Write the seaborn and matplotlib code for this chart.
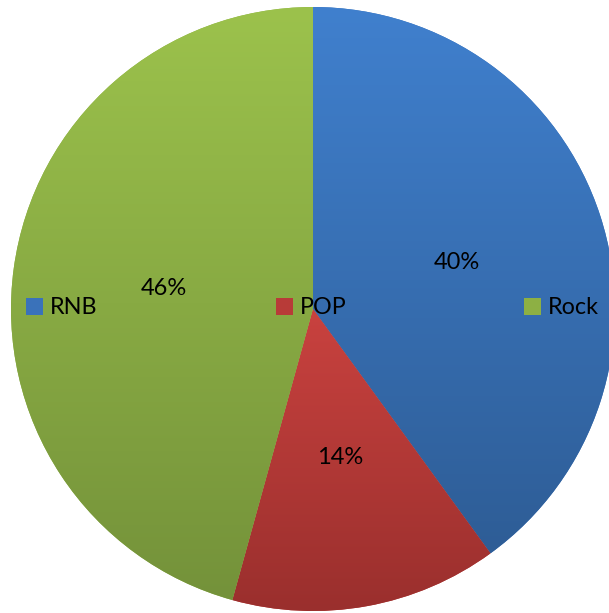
import numpy as np
import matplotlib
matplotlib.use("Agg")
import matplotlib.pyplot as plt
import seaborn as sns
from matplotlib.colors import LinearSegmentedColormap
from matplotlib.patches import Patch

categories = ["RNB", "POP", "Rock"]
values = [40.0, 14.3, 45.7]

top_colors = ["#4080CE", "#C9423F", "#9CC24C"]
bottom_colors = ["#2E5D96", "#9A2F2D", "#74923A"]
mid_colors = ["#3A72BA", "#B83B38", "#8DB044"]

sns.set_style("white")
plt.rcParams["font.family"] = ["Lato", "DejaVu Sans"]

W, H = 609, 613
fig = plt.figure(figsize=(W / 100, H / 100), dpi=100)
ax = fig.add_axes([0, 0, 1, 1])

cx, cy, r = 313, H - 309, 302
wedges, texts, autotexts = ax.pie(
    values, colors=mid_colors, startangle=90, counterclock=False,
    center=(cx, cy), radius=r, autopct="%1.0f%%", pctdistance=0.5,
    textprops=dict(fontsize=17, color="black"),
    wedgeprops=dict(linewidth=0),
)
for t in texts:
    t.set_visible(False)

ax.set_xlim(0, W)
ax.set_ylim(0, H)
ax.set_aspect("equal")
ax.axis("off")

# vertical gradient per wedge
for w, c0, c1 in zip(wedges, top_colors, bottom_colors):
    bb = w.get_path().get_extents(w.get_patch_transform())
    cmap = LinearSegmentedColormap.from_list("g", [c1, c0])
    grad = np.linspace(0, 1, 256).reshape(-1, 1)
    im = ax.imshow(grad, cmap=cmap, origin="lower", aspect="auto",
                   extent=(bb.x0, bb.x1, bb.y0, bb.y1), zorder=w.get_zorder() + 0.1)
    im.set_clip_path(w)
for t in autotexts:
    t.set_zorder(5)
ax.set_xlim(0, W)
ax.set_ylim(0, H)

handles = [Patch(facecolor=c, edgecolor="none") for c in mid_colors]
fs = 16.8
fpx = fs * 100 / 72
leg = ax.legend(handles, categories, ncol=3, loc="center left",
                bbox_to_anchor=(26 / W, 1 - 308 / H), frameon=False,
                fontsize=fs, handlelength=17 / fpx, handleheight=17 / fpx,
                handletextpad=7 / fpx, columnspacing=178 / fpx,
                borderpad=0, borderaxespad=0, labelcolor="black")
leg.set_zorder(6)

fig.savefig("out.png", dpi=100)
